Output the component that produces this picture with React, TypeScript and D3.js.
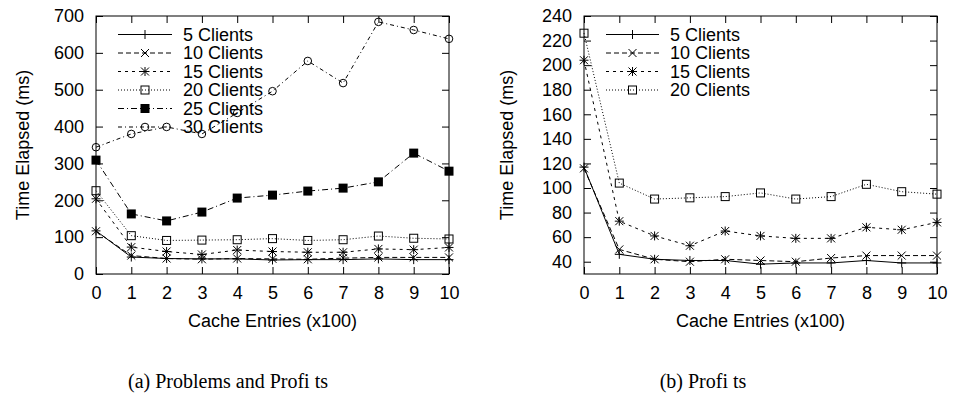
import React, { useEffect, useRef } from 'react';
import * as d3 from 'd3';

// Cache entries (x100) on the x axis
const cacheEntries = [0, 1, 2, 3, 4, 5, 6, 7, 8, 9, 10];

// Time elapsed (ms) per number of clients
const clients5 = [117, 46, 42, 41, 41, 38, 39, 39, 41, 39, 39];
const clients10 = [116, 50, 42, 40, 42, 41, 40, 43, 45, 45, 45];
const clients15 = [204, 73, 61, 53, 65, 61, 59, 59, 68, 66, 72];
const clients20 = [226, 104, 91, 92, 93, 96, 91, 93, 103, 97, 95];
const clients25 = [309, 163, 144, 168, 206, 214, 225, 233, 250, 328, 279];
const clients30 = [344, 380, 399, 380, 437, 496, 578, 518, 684, 662, 638];

const seriesLabels = ['5 Clients', '10 Clients', '15 Clients', '20 Clients', '25 Clients', '30 Clients'];

const leftYTicks = [0, 100, 200, 300, 400, 500, 600, 700];
const rightYTicks = [40, 60, 80, 100, 120, 140, 160, 180, 200, 220, 240];

const xLabel = 'Cache Entries (x100)';
const yLabel = 'Time Elapsed (ms)';
const captions = ['(a) Problems and Profi ts', '(b) Profi ts'];

type Marker = 'plus' | 'cross' | 'star' | 'box' | 'filledBox' | 'circle';

interface Series {
  label: string;
  values: number[];
  dash: string | null;
  marker: Marker;
}

const allSeries: Series[] = [
  { label: seriesLabels[0], values: clients5, dash: null, marker: 'plus' },
  { label: seriesLabels[1], values: clients10, dash: '5,3', marker: 'cross' },
  { label: seriesLabels[2], values: clients15, dash: '3,4', marker: 'star' },
  { label: seriesLabels[3], values: clients20, dash: '1,2', marker: 'box' },
  { label: seriesLabels[4], values: clients25, dash: '6,3,1,3', marker: 'filledBox' },
  { label: seriesLabels[5], values: clients30, dash: '4,3,1,3', marker: 'circle' },
];

const FONT = "'Liberation Sans', Arial, Helvetica, sans-serif";
const SERIF = "'Liberation Serif', 'Times New Roman', Times, serif";

function drawMarker(g: d3.Selection<SVGGElement, unknown, null, undefined>, type: Marker, x: number, y: number) {
  const s = 4.5;
  const c = 4;
  if (type === 'plus' || type === 'star') {
    g.append('path')
      .attr('d', `M${x - s},${y}h${2 * s}M${x},${y - s}v${2 * s}`)
      .attr('stroke', '#000').attr('stroke-width', 1).attr('fill', 'none');
  }
  if (type === 'cross' || type === 'star') {
    g.append('path')
      .attr('d', `M${x - c},${y - c}l${2 * c},${2 * c}M${x - c},${y + c}l${2 * c},${-2 * c}`)
      .attr('stroke', '#000').attr('stroke-width', 1).attr('fill', 'none');
  }
  if (type === 'box') {
    g.append('rect')
      .attr('x', x - 4).attr('y', y - 4).attr('width', 8).attr('height', 8)
      .attr('stroke', '#000').attr('stroke-width', 1).attr('fill', 'none');
  }
  if (type === 'filledBox') {
    g.append('rect')
      .attr('x', x - 4.5).attr('y', y - 4.5).attr('width', 9).attr('height', 9)
      .attr('fill', '#000');
  }
  if (type === 'circle') {
    g.append('circle')
      .attr('cx', x).attr('cy', y).attr('r', 3.8)
      .attr('stroke', '#000').attr('stroke-width', 1).attr('fill', 'none');
  }
}

interface PanelOptions {
  left: number;
  right: number;
  top: number;
  bottom: number;
  yDomain: [number, number];
  yTicks: number[];
  series: Series[];
  legendX: number;
  legendWidth: number;
  yLabelX: number;
  caption: string;
  captionX: number;
}

function drawPanel(svg: d3.Selection<SVGSVGElement, unknown, null, undefined>, o: PanelOptions) {
  const x = d3.scaleLinear().domain([0, 10]).range([o.left, o.right]);
  const y = d3.scaleLinear().domain(o.yDomain).range([o.bottom, o.top]);
  const g = svg.append('g');

  const styleAxis = (a: d3.Selection<SVGGElement, unknown, null, undefined>) => {
    a.select('.domain').remove();
    a.selectAll('line').attr('stroke', '#000');
    a.attr('font-family', FONT).attr('font-size', 18);
    a.selectAll('text').attr('fill', '#000');
  };

  // Axes with inward ticks, mirrored on top and right
  g.append('g')
    .attr('transform', `translate(0,${o.bottom})`)
    .call(d3.axisBottom(x).tickValues(cacheEntries).tickSize(-7).tickPadding(12).tickSizeOuter(0))
    .call(styleAxis);
  g.append('g')
    .attr('transform', `translate(0,${o.top})`)
    .call(d3.axisTop(x).tickValues(cacheEntries).tickSize(-7).tickFormat(() => '').tickSizeOuter(0))
    .call(styleAxis);
  g.append('g')
    .attr('transform', `translate(${o.left},0)`)
    .call(d3.axisLeft(y).tickValues(o.yTicks).tickSize(-7).tickPadding(12).tickSizeOuter(0))
    .call(styleAxis);
  g.append('g')
    .attr('transform', `translate(${o.right},0)`)
    .call(d3.axisRight(y).tickValues(o.yTicks).tickSize(-7).tickFormat(() => '').tickSizeOuter(0))
    .call(styleAxis);

  // Frame
  g.append('rect')
    .attr('x', o.left).attr('y', o.top)
    .attr('width', o.right - o.left).attr('height', o.bottom - o.top)
    .attr('fill', 'none').attr('stroke', '#000').attr('stroke-width', 1);

  const line = d3.line<number>()
    .x((_, i) => x(cacheEntries[i]))
    .y(d => y(d));

  // Legend
  const legend = g.append('g');
  o.series.forEach((s, i) => {
    const ly = o.top + 18.5 + i * 18.5;
    legend.append('line')
      .attr('x1', o.legendX).attr('x2', o.legendX + o.legendWidth)
      .attr('y1', ly).attr('y2', ly)
      .attr('stroke', '#000').attr('stroke-width', 1)
      .attr('stroke-dasharray', s.dash);
    drawMarker(legend, s.marker, o.legendX + o.legendWidth / 2, ly);
    legend.append('text')
      .attr('x', o.legendX + o.legendWidth + 11)
      .attr('y', ly)
      .attr('dy', '0.35em')
      .attr('font-family', FONT)
      .attr('font-size', 18)
      .text(s.label);
  });

  // Series lines and markers
  o.series.forEach(s => {
    g.append('path')
      .datum(s.values)
      .attr('fill', 'none')
      .attr('stroke', '#000')
      .attr('stroke-width', 1)
      .attr('stroke-dasharray', s.dash)
      .attr('d', line);
    const mg = g.append('g');
    s.values.forEach((v, i) => drawMarker(mg, s.marker, x(cacheEntries[i]), y(v)));
  });

  // Axis labels
  g.append('text')
    .attr('x', (o.left + o.right) / 2)
    .attr('y', 327)
    .attr('text-anchor', 'middle')
    .attr('font-family', FONT)
    .attr('font-size', 18)
    .text(xLabel);

  g.append('text')
    .attr('transform', `translate(${o.yLabelX},${(o.top + o.bottom) / 2}) rotate(-90)`)
    .attr('text-anchor', 'middle')
    .attr('dy', '0.35em')
    .attr('font-family', FONT)
    .attr('font-size', 18)
    .text(yLabel);

  // Caption
  g.append('text')
    .attr('x', o.captionX)
    .attr('y', 388)
    .attr('text-anchor', 'middle')
    .attr('font-family', SERIF)
    .attr('font-size', 20)
    .text(o.caption);
}

const App: React.FC = () => {
  const svgRef = useRef<SVGSVGElement>(null);

  useEffect(() => {
    if (!svgRef.current) return;
    const svg = d3.select(svgRef.current);
    svg.selectAll('*').remove();

    drawPanel(svg, {
      left: 96, right: 449, top: 16, bottom: 274,
      yDomain: [0, 700], yTicks: leftYTicks,
      series: allSeries,
      legendX: 118, legendWidth: 54,
      yLabelX: 23,
      caption: captions[0], captionX: 228,
    });

    drawPanel(svg, {
      left: 584, right: 937, top: 16, bottom: 274,
      yDomain: [30, 240], yTicks: rightYTicks,
      series: allSeries.slice(0, 4),
      legendX: 606, legendWidth: 53,
      yLabelX: 507,
      caption: captions[1], captionX: 703,
    });
  }, []);

  return (
    <svg
      ref={svgRef}
      width={953}
      height={395}
      style={{ position: 'absolute', left: 0, top: 0, background: '#fff' }}
    />
  );
};

export default App;
